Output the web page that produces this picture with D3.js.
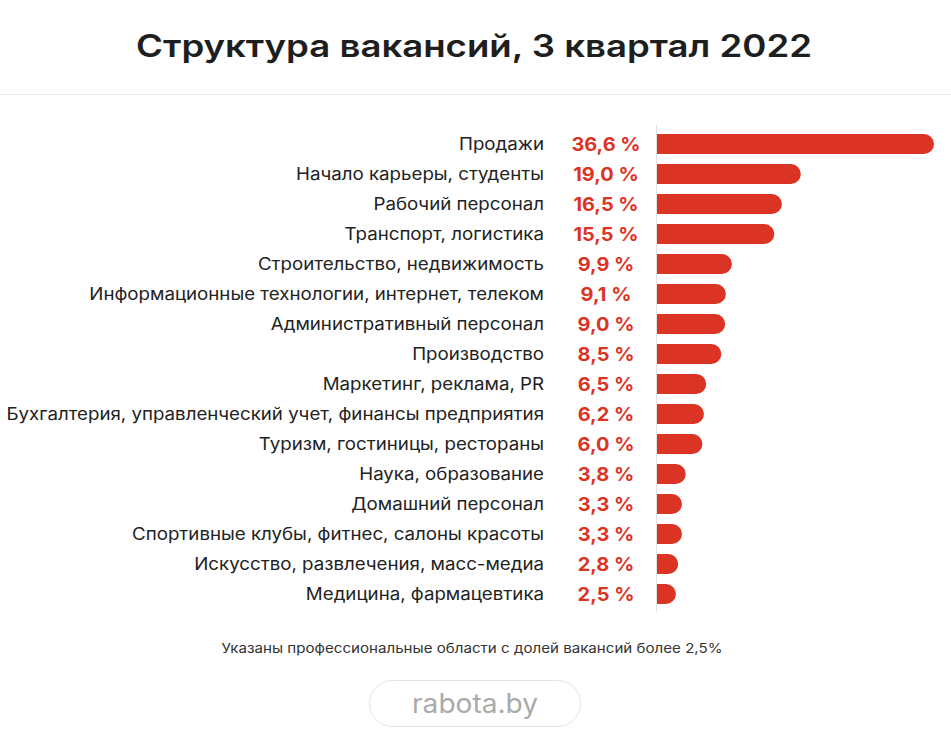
<!DOCTYPE html>
<html>
<head>
  <meta charset="utf-8">
  <script src="https://cdn.jsdelivr.net/npm/d3@7"></script>
  <style>
    body { margin: 0; background: #fff; }
    svg text { font-family: Inter, sans-serif; }
  </style>
</head>
<body>
  <script>
    // data
    var categories = [
      'Продажи',
      'Начало карьеры, студенты',
      'Рабочий персонал',
      'Транспорт, логистика',
      'Строительство, недвижимость',
      'Информационные технологии, интернет, телеком',
      'Административный персонал',
      'Производство',
      'Маркетинг, реклама, PR',
      'Бухгалтерия, управленческий учет, финансы предприятия',
      'Туризм, гостиницы, рестораны',
      'Наука, образование',
      'Домашний персонал',
      'Спортивные клубы, фитнес, салоны красоты',
      'Искусство, развлечения, масс-медиа',
      'Медицина, фармацевтика'
    ]
    var shares = [36.6, 19.0, 16.5, 15.5, 9.9, 9.1, 9.0, 8.5, 6.5, 6.2, 6.0, 3.8, 3.3, 3.3, 2.8, 2.5]
    var title = 'Структура вакансий, 3 квартал 2022'
    var note = 'Указаны профессиональные области с долей вакансий более 2,5%'

    var W = 951, H = 741
    var red = '#dc3424'

    var svg = d3.select('body').append('svg')
      .attr('width', W)
      .attr('height', H)

    // the source font is wider than Inter, so text is stretched sideways a bit
    function wide(sel, x, y, k) {
      return sel.attr('x', 0).attr('y', 0)
        .attr('transform', 'translate(' + x + ',' + y + ') scale(' + k + ',1)')
    }

    wide(svg.append('text'), 474, 57, 1.18)
      .attr('text-anchor', 'middle')
      .style('font-size', '31px')
      .style('font-weight', 600)
      .style('fill', '#1e1e1e')
      .text(title)

    svg.append('line')
      .attr('x1', 0).attr('x2', W)
      .attr('y1', 94.5).attr('y2', 94.5)
      .style('stroke', '#ececec')

    var x = d3.scaleLinear().domain([0, 36.6]).range([657, 934])
    var y = d3.scaleBand().domain(categories).range([129, 609]).paddingInner(1 / 3).paddingOuter(1 / 6)

    svg.append('line')
      .attr('x1', 656.5).attr('x2', 656.5)
      .attr('y1', 125).attr('y2', 612)
      .style('stroke', '#e2e2e2')

    var rows = svg.selectAll('g.row')
      .data(categories)
      .join('g')
      .attr('class', 'row')

    // bars, flat left end and round right end
    rows.append('path')
      .attr('d', function (d, i) {
        var x0 = x(0), x1 = x(shares[i]), y0 = y(d), h = y.bandwidth(), r = h / 2
        return 'M' + x0 + ',' + y0 + 'H' + (x1 - r) +
          'A' + r + ',' + r + ' 0 0 1 ' + (x1 - r) + ',' + (y0 + h) +
          'H' + x0 + 'Z'
      })
      .style('fill', red)

    rows.append('text')
      .each(function (d) {
        wide(d3.select(this), 544, y(d) + y.bandwidth() / 2, 1.1)
      })
      .attr('dy', '0.36em')
      .attr('text-anchor', 'end')
      .style('font-size', '17px')
      .style('fill', '#222')
      .text(function (d) { return d })

    rows.append('text')
      .each(function (d) {
        wide(d3.select(this), 606, y(d) + y.bandwidth() / 2, 1.05)
      })
      .attr('dy', '0.37em')
      .attr('text-anchor', 'middle')
      .style('font-size', '19px')
      .style('font-weight', 700)
      .style('fill', red)
      .text(function (d, i) { return d3.format('.1f')(shares[i]).replace('.', ',') + ' %' })

    wide(svg.append('text'), 472, 653, 1.12)
      .attr('text-anchor', 'middle')
      .style('font-size', '13.5px')
      .style('fill', '#333')
      .text(note)

    svg.append('rect')
      .attr('x', 369.5).attr('y', 680.5)
      .attr('width', 211).attr('height', 46)
      .attr('rx', 23)
      .style('fill', 'none')
      .style('stroke', '#e3e3e3')

    wide(svg.append('text'), 475, 713, 1.04)
      .attr('text-anchor', 'middle')
      .style('font-size', '27px')
      .style('fill', '#aaa')
      .text('rabota.by')
  </script>
</body>
</html>
